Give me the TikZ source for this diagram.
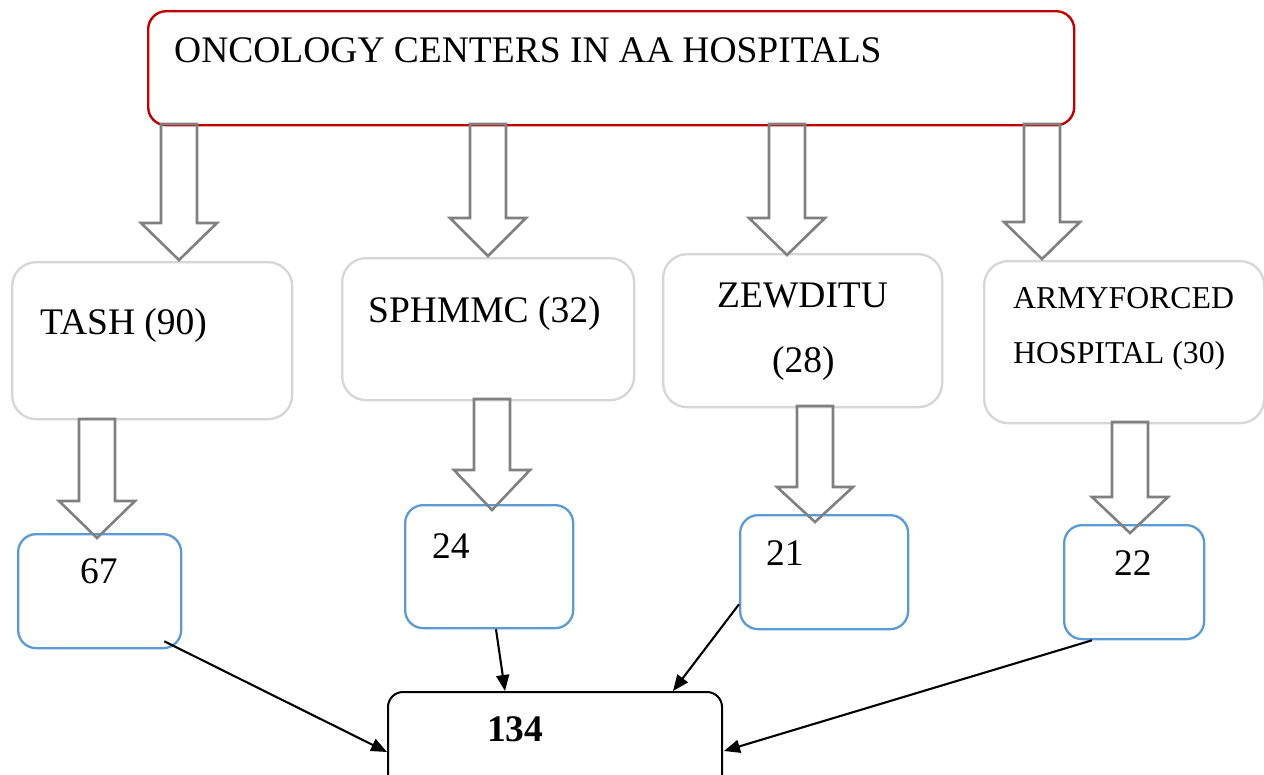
\documentclass[tikz,border=0pt]{standalone}
\usepackage{fontspec}
\setmainfont{Liberation Serif}
\usetikzlibrary{arrows.meta,calc}
\definecolor{topred}{HTML}{C00000}
\definecolor{midgray}{HTML}{D6D6D6}
\definecolor{lowblue}{HTML}{5B9BD5}
\definecolor{arrgray}{HTML}{808080}
\newcommand\blkarrow[4]{% x, ytop, yheadtop, ytip
  \draw[blockarr] (#1-18,-#2) -- (#1-18,-#3) -- (#1-38,-#3) -- (#1,-#4) -- (#1+38,-#3) -- (#1+18,-#3) -- (#1+18,-#2) -- cycle;}
\begin{document}
\begin{tikzpicture}[x=1pt,y=1pt,
  box/.style={draw, rectangle, anchor=north west, inner sep=0pt},
  topbox/.style={box, draw=topred, line width=2.4pt, rounded corners=18pt},
  midbox/.style={box, draw=midgray, line width=2.3pt, rounded corners=24pt},
  lowbox/.style={box, draw=lowblue, line width=2.3pt, rounded corners=18pt},
  totbox/.style={box, draw=black, line width=2pt, rounded corners=15pt},
  txt/.style={anchor=base west, inner sep=0pt, font=\fontsize{37.5}{44}\selectfont},
  smalltxt/.style={anchor=base west, inner sep=0pt, font=\fontsize{31.8}{38}\selectfont},
  blockarr/.style={draw=arrgray, line width=2.6pt, line join=miter},
  conn/.style={draw=black, line width=2.1pt, -{Triangle[length=16pt,width=13pt]}}
]
\useasboundingbox (0,0) rectangle (1264,-774);
\fill[white] (0,0) rectangle (1264,-774);
% top box
\node[topbox, minimum width=926pt, minimum height=114pt] (top) at (147,-10) {};
\node[txt] (toptxt) at (174,-62) {ONCOLOGY CENTERS IN AA HOSPITALS};
% middle boxes
\node[midbox, minimum width=280pt, minimum height=157pt] (tash) at (11,-261) {};
\node[txt] (tashtxt) at (40,-334) {TASH (90)};
\node[midbox, minimum width=292pt, minimum height=142pt] (sph) at (341,-257) {};
\node[txt] (sphtxt) at (368,-322) {SPHMMC (32)};
\node[midbox, minimum width=279pt, minimum height=153pt] (zew) at (662,-253) {};
\node[txt] (zewtxt) at (717,-307) {ZEWDITU};
\node[txt] (zewtxtb) at (772,-372) {(28)};
\node[midbox, minimum width=280pt, minimum height=162pt] (army) at (983,-260) {};
\node[smalltxt] (armytxt) at (1013,-308) {ARMYFORCED};
\node[smalltxt] (armytxtb) at (1013,-363) {HOSPITAL (30)};
% lower boxes
\node[lowbox, minimum width=163pt, minimum height=114pt] (n67) at (17,-533) {};
\node[txt] (t67) at (80,-583) {67};
\node[lowbox, minimum width=168pt, minimum height=123pt] (n24) at (404,-504) {};
\node[txt] (t24) at (432,-558) {24};
\node[lowbox, minimum width=168pt, minimum height=114pt] (n21) at (739,-514) {};
\node[txt] (t21) at (766,-565) {21};
\node[lowbox, minimum width=140pt, minimum height=114pt] (n22) at (1063,-524) {};
\node[txt] (t22) at (1114,-575) {22};
% total box
\node[totbox, minimum width=334pt, minimum height=110pt] (total) at (387,-691) {};
\node[txt, font=\fontsize{37.5}{44}\selectfont\bfseries] (ttot) at (487,-741) {134};
% block arrows
\blkarrow{179}{124}{223}{260}
\blkarrow{488}{124}{218}{256}
\blkarrow{787}{124}{218}{255}
\blkarrow{1042}{124}{222}{259}
\blkarrow{97}{419}{501}{538}
\blkarrow{492}{399}{470}{510}
\blkarrow{815}{406}{487}{522}
\blkarrow{1130}{422}{497}{533}
% connectors
\draw[conn] ($(n67.south east)+(-18,8)$) -- ($(total.north west)+(0,-61)$);
\draw[conn] ($(n24.south west)+(92,0)$) -- ($(total.north west)+(118,0)$);
\draw[conn] ($(n21.south west)+(0,26)$) -- ($(total.north west)+(286,0)$);
\draw[conn] ($(n22.south west)+(29,0)$) -- ($(total.north east)+(1,-60)$);
\end{tikzpicture}
\end{document}
